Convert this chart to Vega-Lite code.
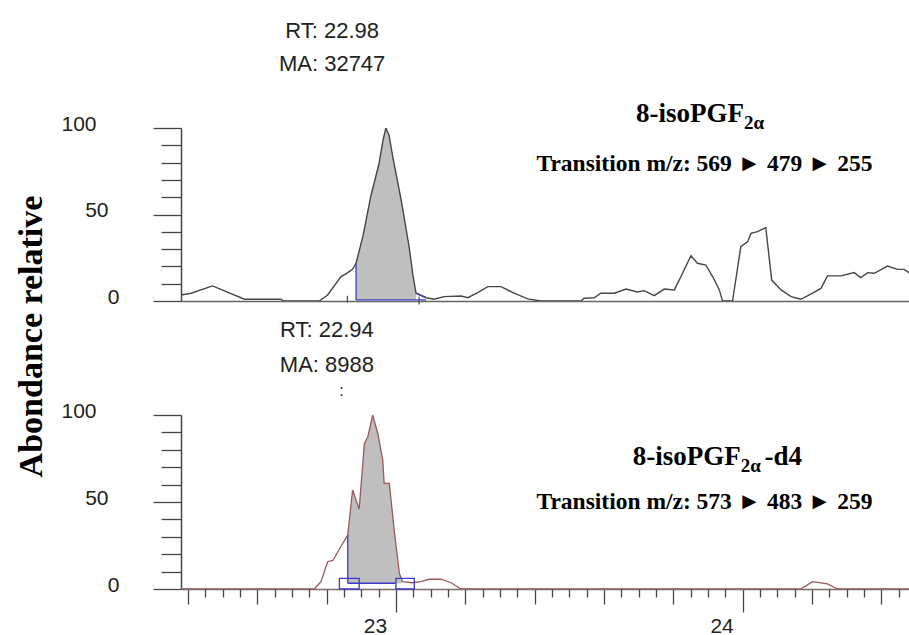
{
  "$schema": "https://vega.github.io/schema/vega-lite/v6.json",
  "background": "white",
  "padding": {"left": 13, "top": 20, "right": 0, "bottom": 0},
  "bounds": "flush",
  "spacing": 114,
  "config": {"view": {"stroke": null}},
  "datasets": {
    "top": [
      {"x":22.380,"y":3.5},{"x":22.409,"y":4.5},{"x":22.471,"y":8.7},{"x":22.563,"y":1.0},{"x":22.668,"y":1.0},{"x":22.677,"y":0},{"x":22.779,"y":0},{"x":22.803,"y":3.5},{"x":22.841,"y":14.0},{"x":22.861,"y":16.4},{"x":22.875,"y":18.3},{"x":22.885,"y":21.8},{"x":22.905,"y":37.6},{"x":22.928,"y":61},{"x":22.951,"y":79.2},{"x":22.963,"y":93.1},{"x":22.971,"y":100},{"x":22.980,"y":96},{"x":22.991,"y":83.2},{"x":23.015,"y":58.4},{"x":23.038,"y":31.4},{"x":23.049,"y":15.0},{"x":23.058,"y":4.5},{"x":23.087,"y":1.9},{"x":23.110,"y":1.0},{"x":23.139,"y":2.5},{"x":23.188,"y":2.9},{"x":23.207,"y":1.9},{"x":23.236,"y":4.8},{"x":23.265,"y":8.3},{"x":23.303,"y":8.3},{"x":23.341,"y":4.5},{"x":23.380,"y":1.2},{"x":23.418,"y":0},{"x":23.534,"y":0},{"x":23.543,"y":1.6},{"x":23.572,"y":1.9},{"x":23.591,"y":4.5},{"x":23.630,"y":4.5},{"x":23.664,"y":6.9},{"x":23.697,"y":5.2},{"x":23.716,"y":6.0},{"x":23.745,"y":3.1},{"x":23.774,"y":6.9},{"x":23.803,"y":6.4},{"x":23.822,"y":14.0},{"x":23.851,"y":26.2},{"x":23.870,"y":21.8},{"x":23.894,"y":20.8},{"x":23.914,"y":14.0},{"x":23.933,"y":6.4},{"x":23.942,"y":0},{"x":23.971,"y":0},{"x":23.995,"y":31.4},{"x":24.015,"y":34.3},{"x":24.024,"y":39.1},{"x":24.043,"y":40.1},{"x":24.067,"y":42.4},{"x":24.084,"y":12.1},{"x":24.111,"y":6.4},{"x":24.140,"y":2.5},{"x":24.168,"y":1.0},{"x":24.202,"y":4.5},{"x":24.226,"y":7.3},{"x":24.245,"y":14.5},{"x":24.284,"y":14.5},{"x":24.322,"y":16.4},{"x":24.341,"y":13.5},{"x":24.361,"y":16.4},{"x":24.380,"y":16.0},{"x":24.418,"y":20.2},{"x":24.447,"y":18.3},{"x":24.466,"y":18.3},{"x":24.483,"y":16.0}
    ],
    "bottom": [
      {"x":22.380,"y":0},{"x":22.764,"y":0},{"x":22.784,"y":4.2},{"x":22.803,"y":15.7},{"x":22.818,"y":16.4},{"x":22.841,"y":24.3},{"x":22.861,"y":31.0},{"x":22.875,"y":56.9},{"x":22.894,"y":46.0},{"x":22.909,"y":83.7},{"x":22.919,"y":87.5},{"x":22.933,"y":100},{"x":22.948,"y":89.1},{"x":22.962,"y":74.1},{"x":22.966,"y":60.7},{"x":22.981,"y":60.7},{"x":22.995,"y":33.9},{"x":23.010,"y":9.0},{"x":23.019,"y":4.2},{"x":23.048,"y":3.6},{"x":23.072,"y":4.2},{"x":23.096,"y":5.6},{"x":23.130,"y":5.6},{"x":23.159,"y":3.6},{"x":23.188,"y":0},{"x":24.168,"y":0},{"x":24.202,"y":4.2},{"x":24.245,"y":2.9},{"x":24.274,"y":0},{"x":24.483,"y":0}
    ],
    "topBlue": [
      {"x":22.885,"y":0.6,"x2":22.885,"y2":21.8},
      {"x":22.885,"y":0.6,"x2":23.087,"y2":0.6},
      {"x":23.058,"y":4.5,"x2":23.087,"y2":1.9}
    ],
    "topMarks": [
      {"x":22.860,"y":-1,"x2":22.860,"y2":3},
      {"x":23.067,"y":-2,"x2":23.067,"y2":2.5}
    ],
    "bottomBlue": [
      {"x":22.861,"y":3.3,"x2":22.861,"y2":31.0},
      {"x":22.861,"y":3.3,"x2":23.0,"y2":3.3}
    ],
    "bottomBoxes": [
      {"x":22.837,"y":0,"x2":22.894,"y2":6.1},
      {"x":23.0,"y":0,"x2":23.053,"y2":6.1}
    ],
    "topRT": [{"x":22.816,"y":152,"t":"RT: 22.98"},{"x":22.816,"y":133,"t":"MA: 32747"}],
    "topName": [{"x":24.004,"y":103.6,"t":"8-isoPGF"}],
    "topSub": [{"x":24.004,"y":99.4,"t":"2α"}],
    "topTrans": [{"x":23.890,"y":75.3,"t":"Transition m/z: 569 ► 479 ► 255"}],
    "botRT": [{"x":22.801,"y":144.8,"t":"RT: 22.94"},{"x":22.801,"y":124.7,"t":"MA: 8988"}],
    "botDot": [{"x":22.843,"y":111,"t":":"}],
    "botName": [{"x":23.995,"y":71.3,"t":"8-isoPGF"}],
    "botSub": [{"x":23.995,"y":67.4,"t":"2α"}],
    "botSuffix": [{"x":24.063,"y":71.3,"t":"-d4"}],
    "botTrans": [{"x":23.890,"y":45.8,"t":"Transition m/z: 573 ► 483 ► 259"}]
  },
  "vconcat": [
    {
      "width": 729,
      "height": 173,
      "resolve": {"axis": {"x": "independent", "y": "independent"}},
      "encoding": {
        "x": {"field": "x", "type": "quantitative", "scale": {"domain": [22.38, 24.483], "nice": false, "zero": false}, "axis": null},
        "y": {"field": "y", "type": "quantitative", "scale": {"domain": [0, 100], "nice": false}, "axis": null}
      },
      "layer": [
        {"data": {"name": "top"}, "transform": [{"filter": "datum.x >= 22.884 && datum.x <= 23.059"}],
          "mark": {"type": "area", "color": "#bfbfbf", "opacity": 1},
          "encoding": {
            "y": {"field": "y", "type": "quantitative", "scale": {"domain": [0, 100], "nice": false},
              "axis": {"orient": "left", "values": [10,20,30,40,60,70,80,90], "domain": false, "labels": false, "grid": false,
                "tickSize": 20, "tickColor": "#444", "tickWidth": 1.3, "title": null}},
            "y2": {"datum": 0.6}}},
        {"data": {"name": "top"}, "mark": {"type": "line", "color": "#474747", "strokeWidth": 1.4, "clip": true},
          "encoding": {
            "x": {"field": "x", "type": "quantitative", "scale": {"domain": [22.38, 24.483], "nice": false, "zero": false},
              "axis": {"orient": "bottom", "ticks": false, "labels": false, "domain": true, "domainColor": "#666", "domainWidth": 1.6, "grid": false, "title": null}},
            "y": {"field": "y", "type": "quantitative", "scale": {"domain": [0, 100], "nice": false},
              "axis": {
                "orient": "left", "values": [0, 50, 100],
                "grid": false, "domainColor": "#444", "domainWidth": 1.5, "tickColor": "#444", "tickWidth": 1.3, "tickSize": 28,
                "labelFont": "Liberation Sans", "labelFontSize": 21, "labelColor": "#222",
                "labelPadding": {"condition": [{"test": "datum.value === 100", "value": 57}, {"test": "datum.value === 50", "value": 45}], "value": 34},
                "labelOffset": -4, "labelBaseline": "middle", "labelOverlap": false, "labelFlush": false, "labelBound": false,
                "title": "Abondance relative", "titleFont": "Liberation Serif", "titleFontWeight": "bold", "titleFontSize": 34,
                "titleColor": "#000", "titleAngle": -90, "titleX": -140, "titleY": 208, "titleAlign": "center", "titleBaseline": "alphabetic"
              }}}},
        {"data": {"name": "topBlue"}, "mark": {"type": "rule", "color": "#3c3cc8", "strokeWidth": 1.3},
          "encoding": {"x2": {"field": "x2"}, "y2": {"field": "y2"}}},
        {"data": {"name": "topMarks"}, "mark": {"type": "rule", "color": "#555", "strokeWidth": 1.3},
          "encoding": {"x2": {"field": "x2"}, "y2": {"field": "y2"}}},
        {"data": {"name": "topRT"}, "mark": {"type": "text", "font": "Liberation Sans", "fontSize": 22, "color": "#222", "align": "center", "baseline": "alphabetic"},
          "encoding": {"text": {"field": "t"}}},
        {"data": {"name": "topName"}, "mark": {"type": "text", "font": "Liberation Serif", "fontWeight": "bold", "fontSize": 27, "color": "#000", "align": "right", "baseline": "alphabetic"},
          "encoding": {"text": {"field": "t"}}},
        {"data": {"name": "topSub"}, "mark": {"type": "text", "font": "Liberation Serif", "fontWeight": "bold", "fontSize": 19, "color": "#000", "align": "left", "baseline": "alphabetic"},
          "encoding": {"text": {"field": "t"}}},
        {"data": {"name": "topTrans"}, "mark": {"type": "text", "font": "Liberation Serif", "fontWeight": "bold", "fontSize": 23.5, "color": "#000", "align": "center", "baseline": "alphabetic"},
          "encoding": {"text": {"field": "t"}}}
      ]
    },
    {
      "width": 729,
      "height": 174,
      "resolve": {"axis": {"x": "independent", "y": "independent"}},
      "encoding": {
        "x": {"field": "x", "type": "quantitative", "scale": {"domain": [22.38, 24.483], "nice": false, "zero": false}, "axis": null},
        "y": {"field": "y", "type": "quantitative", "scale": {"domain": [0, 100], "nice": false}, "axis": null}
      },
      "layer": [
        {"data": {"name": "bottom"}, "transform": [{"filter": "datum.x >= 22.86 && datum.x <= 23.02"}],
          "mark": {"type": "area", "color": "#bfbfbf", "opacity": 1},
          "encoding": {
            "x": {"field": "x", "type": "quantitative", "scale": {"domain": [22.38, 24.483], "nice": false, "zero": false},
              "axis": {"orient": "bottom", "values": [22.4, 22.6, 22.8, 23.2, 23.4, 23.6, 23.8, 24.2, 24.4], "domain": false, "labels": false, "grid": false,
                "tickSize": 15, "tickColor": "#444", "tickWidth": 1.3, "title": null}},
            "y": {"field": "y", "type": "quantitative", "scale": {"domain": [0, 100], "nice": false},
              "axis": {"orient": "left", "values": [10,20,30,40,60,70,80,90], "domain": false, "labels": false, "grid": false,
                "tickSize": 20, "tickColor": "#444", "tickWidth": 1.3, "title": null}},
            "y2": {"datum": 3.3}}},
        {"data": {"name": "bottom"}, "mark": {"type": "line", "color": "#9a5858", "strokeWidth": 1.3, "clip": true},
          "encoding": {
            "x": {"field": "x", "type": "quantitative", "scale": {"domain": [22.38, 24.483], "nice": false, "zero": false},
              "axis": {"orient": "bottom", "values": [23, 24], "format": "d",
                "grid": false, "domainColor": "#7a6a6a", "domainWidth": 1.6, "tickColor": "#444", "tickWidth": 1.3, "tickSize": 23,
                "labelFont": "Liberation Sans", "labelFontSize": 21, "labelColor": "#222", "labelPadding": 3, "labelOffset": -21,
                "labelBaseline": "top", "labelOverlap": false, "labelFlush": false, "labelBound": false, "title": null}},
            "y": {"field": "y", "type": "quantitative", "scale": {"domain": [0, 100], "nice": false},
              "axis": {
                "orient": "left", "values": [0, 50, 100],
                "grid": false, "domainColor": "#444", "domainWidth": 1.5, "tickColor": "#444", "tickWidth": 1.3, "tickSize": 28,
                "labelFont": "Liberation Sans", "labelFontSize": 21, "labelColor": "#222",
                "labelPadding": {"condition": [{"test": "datum.value === 100", "value": 57}, {"test": "datum.value === 50", "value": 45}], "value": 34},
                "labelOffset": -4, "labelBaseline": "middle", "labelOverlap": false, "labelFlush": false, "labelBound": false,
                "title": null
              }}}},
        {"data": {"name": "bottomBlue"}, "mark": {"type": "rule", "color": "#3c3cc8", "strokeWidth": 1.3},
          "encoding": {
            "x": {"field": "x", "type": "quantitative", "scale": {"domain": [22.38, 24.483], "nice": false, "zero": false},
              "axis": {"orient": "bottom", "values": [22.45,22.5,22.55,22.65,22.7,22.75,22.85,22.9,22.95,23.05,23.1,23.15,23.25,23.3,23.35,23.45,23.5,23.55,23.65,23.7,23.75,23.85,23.9,23.95,24.05,24.1,24.15,24.25,24.3,24.35,24.45],
                "domain": false, "labels": false, "grid": false, "tickSize": 8, "tickColor": "#444", "tickWidth": 1.3, "title": null}},
            "x2": {"field": "x2"}, "y2": {"field": "y2"}}},
        {"data": {"name": "bottomBoxes"}, "mark": {"type": "rect", "filled": false, "color": "#3c3cc8", "strokeWidth": 1.3},
          "encoding": {"x2": {"field": "x2"}, "y2": {"field": "y2"}}},
        {"data": {"name": "botRT"}, "mark": {"type": "text", "font": "Liberation Sans", "fontSize": 22, "color": "#222", "align": "center", "baseline": "alphabetic"},
          "encoding": {"text": {"field": "t"}}},
        {"data": {"name": "botDot"}, "mark": {"type": "text", "font": "Liberation Sans", "fontSize": 16, "color": "#222", "align": "center", "baseline": "alphabetic"},
          "encoding": {"text": {"field": "t"}}},
        {"data": {"name": "botName"}, "mark": {"type": "text", "font": "Liberation Serif", "fontWeight": "bold", "fontSize": 27, "color": "#000", "align": "right", "baseline": "alphabetic"},
          "encoding": {"text": {"field": "t"}}},
        {"data": {"name": "botSub"}, "mark": {"type": "text", "font": "Liberation Serif", "fontWeight": "bold", "fontSize": 19, "color": "#000", "align": "left", "baseline": "alphabetic"},
          "encoding": {"text": {"field": "t"}}},
        {"data": {"name": "botSuffix"}, "mark": {"type": "text", "font": "Liberation Serif", "fontWeight": "bold", "fontSize": 27, "color": "#000", "align": "left", "baseline": "alphabetic"},
          "encoding": {"text": {"field": "t"}}},
        {"data": {"name": "botTrans"}, "mark": {"type": "text", "font": "Liberation Serif", "fontWeight": "bold", "fontSize": 23.5, "color": "#000", "align": "center", "baseline": "alphabetic"},
          "encoding": {"text": {"field": "t"}}}
      ]
    }
  ]
}
